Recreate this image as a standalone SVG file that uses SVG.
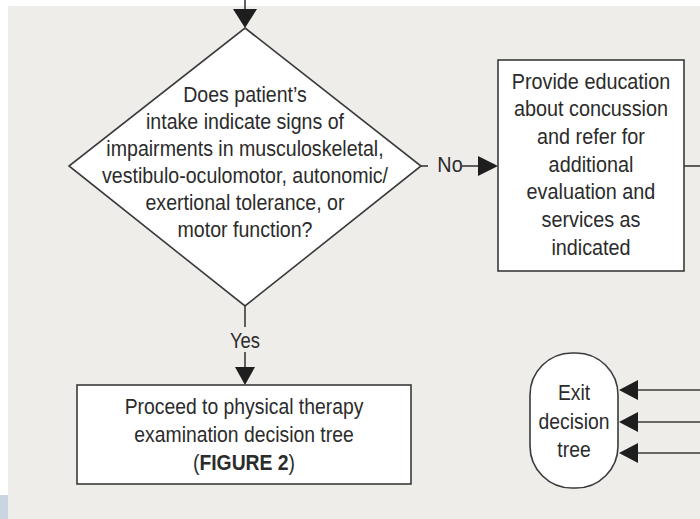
<svg xmlns="http://www.w3.org/2000/svg" width="700" height="519" viewBox="0 0 700 519">
<defs>
<style>
.t{font-family:"Liberation Sans",Arial,sans-serif;font-size:22.5px;fill:#2b2b2b;text-anchor:middle}
.b{font-weight:bold}
.shape{fill:#ffffff;stroke:#3a3a3a;stroke-width:1.6}
.line{stroke:#3a3a3a;stroke-width:1.6;fill:none}
.head{fill:#1e1e1e}
</style>
</defs>
<rect x="0" y="0" width="700" height="519" fill="#ffffff"/>
<rect x="8" y="6" width="692" height="513" fill="#efedea"/>
<rect x="0" y="495" width="8" height="24" fill="#c9d5e2"/>
<g id="connectors">
<line class="line" x1="245" y1="0" x2="245" y2="12"/>
<polygon class="head" points="233,9 257,9 245,28"/>
<line class="line" x1="421" y1="166" x2="428" y2="166"/>
<text class="t" transform="translate(450 172) scale(0.88 1)">No</text>
<line class="line" x1="462" y1="166" x2="480" y2="166"/>
<polygon class="head" points="478,156 498,166 478,176"/>
<line class="line" x1="684" y1="166" x2="700" y2="166"/>
<line class="line" x1="245" y1="306" x2="245" y2="327"/>
<text class="t" transform="translate(245 347.5) scale(0.82 1)">Yes</text>
<line class="line" x1="245" y1="352" x2="245" y2="368"/>
<polygon class="head" points="235,367 255,367 245,385"/>
<line class="line" x1="636" y1="390" x2="700" y2="390"/>
<polygon class="head" points="638,380 638,400 619,390"/>
<line class="line" x1="636" y1="422" x2="700" y2="422"/>
<polygon class="head" points="638,412 638,432 619,422"/>
<line class="line" x1="636" y1="453" x2="700" y2="453"/>
<polygon class="head" points="638,443 638,463 619,453"/>
</g>
<g id="decision">
<polygon class="shape" points="245,28 421,166 245,306 69,166"/>
<text class="t" transform="translate(245 101.5) scale(0.87 1)">Does patient’s</text>
<text class="t" transform="translate(245 128.5) scale(0.87 1)">intake indicate signs of</text>
<text class="t" transform="translate(245 155.5) scale(0.87 1)">impairments in musculoskeletal,</text>
<text class="t" transform="translate(245 182.5) scale(0.87 1)">vestibulo-oculomotor, autonomic/</text>
<text class="t" transform="translate(245 209.5) scale(0.87 1)">exertional tolerance, or</text>
<text class="t" transform="translate(245 236.5) scale(0.87 1)">motor function?</text>
</g>
<g id="education">
<rect class="shape" x="498" y="60" width="186" height="211"/>
<text class="t" transform="translate(591 88.5) scale(0.88 1)">Provide education</text>
<text class="t" transform="translate(591 116.2) scale(0.88 1)">about concussion</text>
<text class="t" transform="translate(591 143.9) scale(0.88 1)">and refer for</text>
<text class="t" transform="translate(591 171.6) scale(0.88 1)">additional</text>
<text class="t" transform="translate(591 199.3) scale(0.88 1)">evaluation and</text>
<text class="t" transform="translate(591 227) scale(0.88 1)">services as</text>
<text class="t" transform="translate(591 254.7) scale(0.88 1)">indicated</text>
</g>
<g id="proceed">
<rect class="shape" x="77" y="385" width="334" height="99"/>
<text class="t" transform="translate(244 413.5) scale(0.86 1)">Proceed to physical therapy</text>
<text class="t" transform="translate(244 442) scale(0.86 1)">examination decision tree</text>
<text class="t" transform="translate(244 469.5) scale(0.86 1)">(<tspan class="b">FIGURE 2</tspan>)</text>
</g>
<g id="exit">
<rect class="shape" x="530" y="353" width="88" height="135" rx="42" ry="42"/>
<text class="t" transform="translate(574 399.5) scale(0.86 1)">Exit</text>
<text class="t" transform="translate(574 428.5) scale(0.86 1)">decision</text>
<text class="t" transform="translate(574 456.5) scale(0.86 1)">tree</text>
</g>
</svg>
